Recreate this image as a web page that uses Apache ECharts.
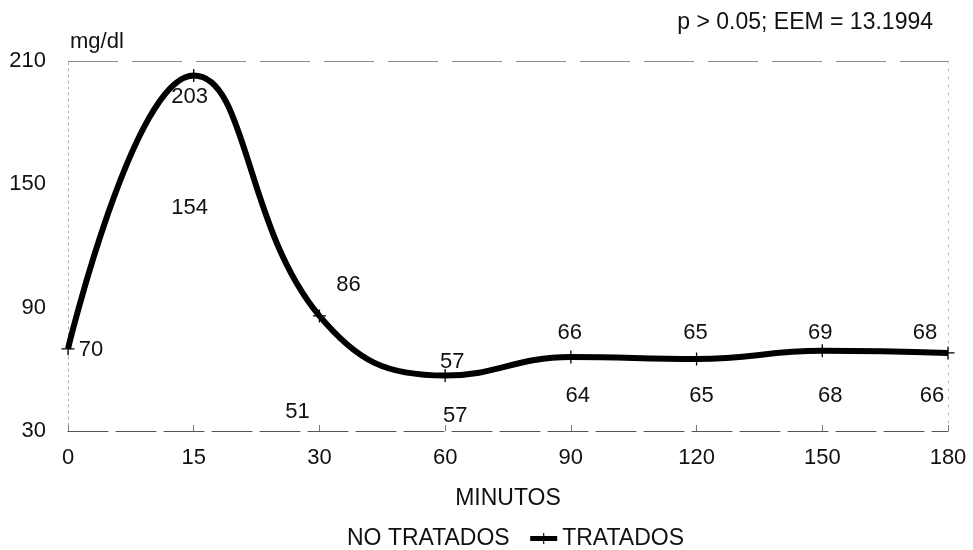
<!DOCTYPE html>
<html>
<head>
<meta charset="utf-8">
<script src="https://cdn.jsdelivr.net/npm/echarts@6/dist/echarts.min.js"></script>
<style>html,body{margin:0;padding:0;background:#fff}#c{width:973px;height:550px}</style>
</head>
<body>
<div id="c"></div>
<script>
var categories = ['0', '15', '30', '60', '90', '120', '150', '180'];
var noTratados = [70, 154, 51, 57, 64, 65, 68, 66];
var tratados = [70, 203, 86, 57, 66, 65, 69, 68];
var yTicks = [30, 90, 150, 210];

// label offsets (pixels, from each point) - styling only
var tratadosLabelOffsets = [[23, 1], [-4, 22], [29, -31], [7, -14], [-1, -24], [-1, -26], [-2, -18], [-23, -20]];
var noTratadosLabelOffsets = [null, [-4, 32], [-22, 24], [10, 40], [7, 35], [5, 37], [8, 43], [-16, 39]];

var FONT = 'Liberation Sans, Arial, sans-serif';
var FS = 22;
var crossPath = 'path://M-1,-10 L1,-10 L1,-1 L10,-1 L10,1 L1,1 L1,10 L-1,10 L-1,1 L-10,1 L-10,-1 L-1,-1 Z';

function buildData(values, offsets) {
  return values.map(function (v, i) {
    var off = offsets[i];
    if (!off) return { value: v, label: { show: false } };
    return { value: v, label: { show: true, position: 'inside', offset: off } };
  });
}

var chart = echarts.init(document.getElementById('c'), null, { renderer: 'canvas' });
chart.setOption({
  animation: false,
  backgroundColor: '#fff',
  textStyle: { fontFamily: FONT },
  title: {
    text: 'p > 0.05; EEM = 13.1994',
    right: 35, top: 6,
    textStyle: { fontFamily: FONT, fontSize: 23, fontWeight: 'normal', color: '#111' }
  },
  grid: { left: 68, right: 25, top: 61, bottom: 119, containLabel: false },
  legend: {
    left: 309, top: 522,
    itemWidth: 27, itemHeight: 14, itemGap: 18,
    textStyle: { fontFamily: FONT, fontSize: 23, color: '#111' },
    data: [
      { name: 'NO TRATADOS', itemStyle: { opacity: 0 }, lineStyle: { opacity: 0 } },
      { name: 'TRATADOS', lineStyle: { width: 5, color: '#000' }, itemStyle: { color: '#000' } }
    ]
  },
  xAxis: {
    type: 'category',
    data: categories,
    boundaryGap: false,
    name: 'MINUTOS',
    nameLocation: 'middle',
    nameGap: 56,
    nameTextStyle: { fontFamily: FONT, fontSize: 23, color: '#111' },
    axisLine: { show: true, lineStyle: { color: '#555', width: 1, type: [40, 8] } },
    axisTick: { show: true, inside: true, length: 6, lineStyle: { color: '#777' } },
    axisLabel: { fontFamily: FONT, fontSize: FS, color: '#111', margin: 16 },
    splitLine: { show: false }
  },
  yAxis: [{
    type: 'value',
    min: 30, max: 210, interval: 60,
    name: 'mg/dl',
    nameLocation: 'end',
    nameGap: 8,
    nameTextStyle: { fontFamily: FONT, fontSize: FS, color: '#111', align: 'left', padding: [0, 0, 0, 2] },
    axisLine: { show: true, lineStyle: { color: '#aaa', width: 1, type: [2, 4] } },
    axisTick: { show: false },
    axisLabel: {
      fontFamily: FONT, fontSize: FS, color: '#111', margin: 22,
      formatter: function (v) { return yTicks.indexOf(v) >= 0 ? String(v) : ''; }
    },
    splitLine: { show: true, lineStyle: { color: ['transparent', 'transparent', 'transparent', '#888'], width: 1, type: [50, 14] } }
  }, {
    type: 'value',
    min: 30, max: 210, interval: 60,
    position: 'right',
    axisLine: { show: true, lineStyle: { color: '#bbb', width: 1, type: [2, 6] } },
    axisTick: { show: false },
    axisLabel: { show: false },
    splitLine: { show: false }
  }],
  series: [{
    name: 'NO TRATADOS',
    type: 'line',
    smooth: true,
    data: buildData(noTratados, noTratadosLabelOffsets),
    symbol: 'circle',
    symbolSize: 1,
    itemStyle: { color: 'rgba(255,255,255,0)' },
    lineStyle: { color: '#ffffff', width: 1, opacity: 0 },
    label: { fontFamily: FONT, fontSize: FS, color: '#111' },
    z: 1
  }, {
    name: 'TRATADOS',
    type: 'line',
    smooth: 0.45,
    data: buildData(tratados, tratadosLabelOffsets),
    symbol: crossPath,
    symbolSize: 13,
    itemStyle: { color: '#000' },
    lineStyle: { color: '#000', width: 6 },
    label: { fontFamily: FONT, fontSize: FS, color: '#111' },
    z: 3
  }]
});
</script>
</body>
</html>
